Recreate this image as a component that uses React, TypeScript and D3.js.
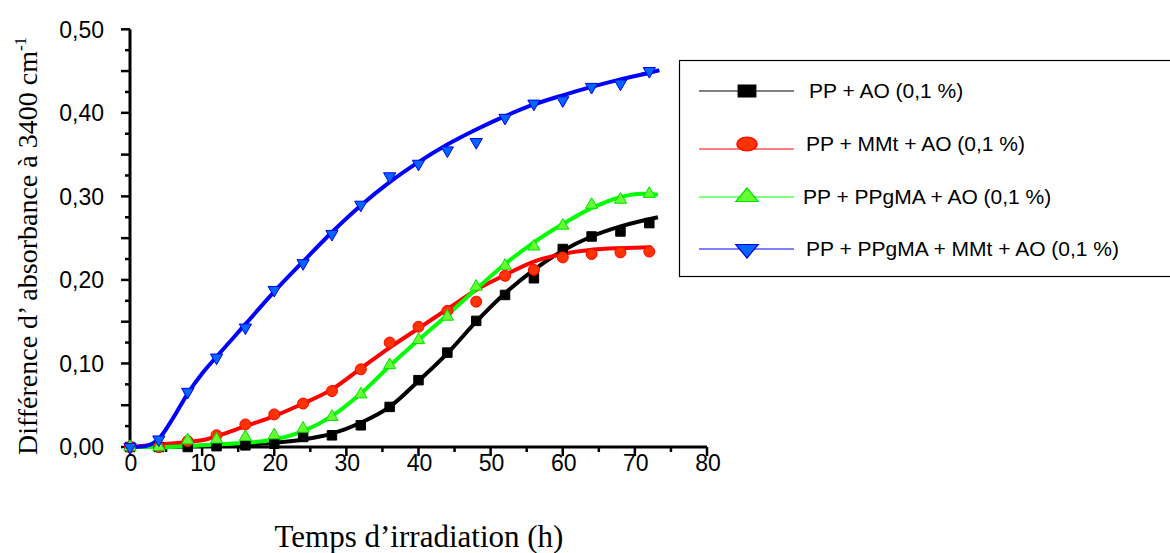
import React from 'react'
import * as d3 from 'd3'

// measured points (every 4 h)
const times = [0, 4, 8, 12, 16, 20, 24, 28, 32, 36, 40, 44, 48, 52, 56, 60, 64, 68, 72]
const blackPts = [0, 0, 0, 0.001, 0.002, 0.004, 0.012, 0.014, 0.026, 0.048, 0.08, 0.113, 0.151, 0.182, 0.202, 0.237, 0.252, 0.258, 0.268]
const redPts = [0, 0, 0.007, 0.014, 0.027, 0.039, 0.052, 0.067, 0.093, 0.125, 0.144, 0.163, 0.174, 0.205, 0.212, 0.227, 0.231, 0.233, 0.234]
const greenPts = [0, 0, 0.008, 0.009, 0.012, 0.014, 0.022, 0.036, 0.063, 0.098, 0.128, 0.156, 0.192, 0.217, 0.24, 0.265, 0.29, 0.296, 0.303]
const bluePts = [0, 0.009, 0.066, 0.107, 0.143, 0.188, 0.22, 0.255, 0.29, 0.324, 0.339, 0.355, 0.365, 0.394, 0.411, 0.415, 0.431, 0.435, 0.45]

// fitted curves
const blackFitT = [0, 4, 8, 12, 16, 20, 24, 28, 32, 36, 40, 44, 48, 52, 56, 60, 64, 68, 73.2]
const blackFit = [0, 0, 0.001, 0.002, 0.003, 0.005, 0.009, 0.016, 0.029, 0.048, 0.079, 0.112, 0.15, 0.184, 0.212, 0.235, 0.252, 0.264, 0.275]
const redFitT = [0, 4, 8, 10.5, 12, 16, 20, 24, 28, 32, 36, 40, 44, 48, 52, 56, 60, 64, 68, 72.3]
const redFit = [0, 0.003, 0.006, 0.009, 0.013, 0.025, 0.037, 0.052, 0.069, 0.094, 0.119, 0.142, 0.165, 0.188, 0.206, 0.222, 0.231, 0.236, 0.238, 0.239]
const greenFitT = [0, 4, 8, 12, 16, 20, 24, 28, 32, 36, 40, 44, 48, 52, 56, 60, 64, 68, 71, 73.2]
const greenFit = [0, 0, 0.001, 0.003, 0.005, 0.009, 0.019, 0.037, 0.064, 0.097, 0.128, 0.158, 0.189, 0.219, 0.245, 0.267, 0.286, 0.299, 0.303, 0.302]
const blueFitT = [0, 2, 4, 6, 8, 10, 12, 16, 20, 24, 28, 32, 36, 40, 44, 48, 52, 56, 60, 64, 68, 72, 73.4]
const blueFit = [0, 0.001, 0.01, 0.035, 0.064, 0.088, 0.108, 0.147, 0.186, 0.222, 0.257, 0.289, 0.317, 0.341, 0.362, 0.38, 0.396, 0.41, 0.421, 0.431, 0.44, 0.448, 0.451]

const labels = ['PP + AO (0,1 %)', 'PP + MMt + AO (0,1 %)', 'PP + PPgMA + AO (0,1 %)', 'PP + PPgMA + MMt + AO (0,1 %)']
const xTicks = [0, 10, 20, 30, 40, 50, 60, 70, 80]
const yTicks = [0, 0.1, 0.2, 0.3, 0.4, 0.5]

const series = [
  { pts: blackPts, fitT: blackFitT, fit: blackFit, line: '#000', fill: '#000', stroke: '#000', shape: d3.symbolSquare, size: 90, rot: 0 },
  { pts: redPts, fitT: redFitT, fit: redFit, line: '#ff0000', fill: '#ff3300', stroke: '#ff0000', shape: d3.symbolCircle, size: 95, rot: 0 },
  { pts: greenPts, fitT: greenFitT, fit: greenFit, line: '#00ff00', fill: '#66ff33', stroke: '#00e000', shape: d3.symbolTriangle, size: 65, rot: 0 },
  { pts: bluePts, fitT: blueFitT, fit: blueFit, line: '#0000ff', fill: '#0066ff', stroke: '#0000ee', shape: d3.symbolTriangle, size: 65, rot: 180 },
]

const comma = d3.formatLocale({ decimal: ',', thousands: ' ', grouping: [3], currency: ['', ''] }).format('.2f')

export default function App() {
  const width = 1170
  const height = 553
  const x = d3.scaleLinear().domain([0, 80]).range([130, 707])
  const y = d3.scaleLinear().domain([0, 0.5]).range([447, 29.3])

  const lineGen = (ts: number[], vs: number[]) =>
    d3.line<number>().x((_, i) => x(ts[i])).y(d => y(d)).curve(d3.curveMonotoneX)(vs) || ''

  const yMinor = d3.range(0, 0.5001, 0.025)
  const xMinor = d3.range(0, 80.01, 5)
  const sans = 'Liberation Sans, Arial, sans-serif'
  const serif = 'Liberation Serif, Times New Roman, serif'

  const legendRows = [91, 146, 197, 249]

  return (
    <svg width={width} height={height} style={{ position: 'absolute', left: 0, top: 0, background: '#fff' }}>
      {/* axes */}
      <line x1={x(0)} x2={x(80)} y1={y(0)} y2={y(0)} stroke="#000" strokeWidth={3} />
      <line x1={x(0)} x2={x(0)} y1={y(0)} y2={y(0.5)} stroke="#000" strokeWidth={3} />
      {yMinor.map((v, i) => (
        <line key={'yt' + i} x1={x(0)} x2={x(0) - (i % 2 === 0 ? 9 : 5)} y1={y(v)} y2={y(v)} stroke="#000" strokeWidth={2.5} />
      ))}
      {xMinor.map((v, i) => (
        <line key={'xt' + i} x1={x(v)} x2={x(v)} y1={y(0)} y2={y(0) + (i % 2 === 0 ? 9 : 5)} stroke="#000" strokeWidth={2.5} />
      ))}
      {yTicks.map(v => (
        <text key={'yl' + v} x={104} y={y(v)} dy="0.36em" textAnchor="end" fontFamily={sans} fontSize={23}>{comma(v)}</text>
      ))}
      {xTicks.map(v => (
        <text key={'xl' + v} x={x(v) + 1} y={471} textAnchor="middle" fontFamily={sans} fontSize={23}>{v}</text>
      ))}
      <text x={419} y={547} textAnchor="middle" fontFamily={serif} fontSize={31}>Temps d’irradiation (h)</text>
      <text transform={`translate(37,${246}) rotate(-90)`} textAnchor="middle" fontFamily={serif} fontSize={28}>
        Différence d’ absorbance à 3400 cm<tspan fontSize={17} dy={-11}>-1</tspan>
      </text>

      {/* fitted curves */}
      {series.map((s, i) => (
        <path key={'f' + i} d={lineGen(s.fitT, s.fit)} fill="none" stroke={s.line} strokeWidth={4} />
      ))}
      {/* points */}
      {series.map((s, i) => (
        <g key={'p' + i}>
          {s.pts.map((v, j) => (
            <path
              key={j}
              d={d3.symbol().type(s.shape).size(s.size)() || ''}
              transform={`translate(${x(times[j])},${y(v)}) rotate(${s.rot})`}
              fill={s.fill}
              stroke={s.stroke}
              strokeWidth={1}
            />
          ))}
        </g>
      ))}

      {/* legend */}
      <rect x={679.5} y={60.5} width={500} height={216} fill="none" stroke="#000" strokeWidth={1.2} />
      {series.map((s, i) => (
        <g key={'lg' + i}>
          <line x1={699} x2={794} y1={legendRows[i] + (i === 1 ? 3 : 0)} y2={legendRows[i] + (i === 1 ? 3 : 0)} stroke={s.line} strokeWidth={1} />
          <path
            d={d3.symbol().type(s.shape).size(s.size * 1.6)() || ''}
            transform={`translate(747,${legendRows[i] - (i === 1 ? 2 : 0)}) scale(1.45,1) rotate(${s.rot})`}
            fill={s.fill}
            stroke={s.stroke}
            strokeWidth={1}
          />
          <text x={i === 0 ? 809 : i === 3 ? 806 : i === 1 ? 806 : 803} y={legendRows[i] - (i === 1 ? 2 : 0)} dy="0.35em" fontFamily={sans} fontSize={21}>{labels[i]}</text>
        </g>
      ))}
    </svg>
  )
}
